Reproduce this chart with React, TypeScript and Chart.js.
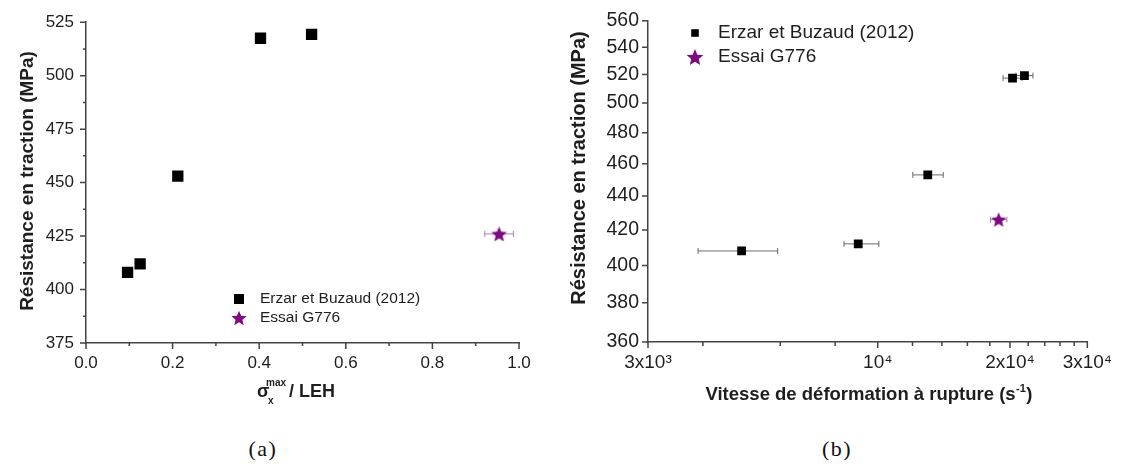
import React, { useEffect, useRef } from 'react';
import { Chart, registerables } from 'chart.js';

Chart.register(...registerables);

const FONT = '"Liberation Sans", Arial, Helvetica, sans-serif';
const PURPLE = '#7e0a80';
const AXIS = '#444444';
const TEXT = '#1e1e1e';

// ---------- Data: panel (a) ----------
const legendLabels = ['Erzar et Buzaud (2012)', 'Essai G776'];
const strengthErzar = [408, 412, 453, 517.5, 519.3];
const ratioErzar = [0.096, 0.125, 0.212, 0.403, 0.521];
const strengthEssai = [426];
const ratioEssai = [0.954];
const ratioEssaiErr = [0.033];

const xTicksA = [0, 0.2, 0.4, 0.6, 0.8, 1.0];
const xMinorTicksA = [0.1, 0.3, 0.5, 0.7, 0.9];
const yTicksA = [375, 400, 425, 450, 475, 500, 525];
const yMinorTicksA = [387.5, 412.5, 437.5, 462.5, 487.5, 512.5];

// ---------- Data: panel (b) ----------
const rateErzar = [4900, 9030, 13000, 20270, 21580];
const rateErzarLow = [3900, 8380, 12020, 19290, 20640];
const rateErzarHigh = [5920, 10060, 14100, 21300, 22560];
const rateEssai = [18850];
const rateEssaiLow = [18060];
const rateEssaiHigh = [19680];

const xTicksB = [3000, 10000, 20000, 30000];
const xTickLabelsB = ['3x10\u00B3', '10\u2074', '2x10\u2074', '3x10\u2074'];
const xMinorTicksB = [4000, 6000, 8000, 12000, 14000, 16000, 18000, 22000, 24000, 26000, 28000];
const yTicksB = [360, 380, 400, 420, 440, 460, 480, 500, 520, 540, 560];

function starPath(ctx: CanvasRenderingContext2D, cx: number, cy: number, R: number, r: number) {
  ctx.beginPath();
  for (let i = 0; i < 10; i++) {
    const rad = i % 2 === 0 ? R : r;
    const a = -Math.PI / 2 + (i * Math.PI) / 5;
    const px = cx + rad * Math.cos(a);
    const py = cy + rad * Math.sin(a);
    if (i === 0) ctx.moveTo(px, py);
    else ctx.lineTo(px, py);
  }
  ctx.closePath();
}

function makeStar(R: number, color: string) {
  const size = Math.ceil(2 * R + 2);
  const c = document.createElement('canvas');
  c.width = size;
  c.height = size;
  const g = c.getContext('2d')!;
  g.fillStyle = color;
  starPath(g, size / 2, size / 2 + R * 0.095, R, R * 0.45);
  g.fill();
  return c;
}

type TickSpec = { xMajor: number[]; xMinor: number[]; yMajor: number[]; yMinor: number[]; majorLen: number; minorLen: number };

function tickPlugin(id: string, spec: TickSpec) {
  return {
    id,
    afterDraw(chart: any) {
      const { ctx, chartArea } = chart;
      const xs = chart.scales.x;
      const ys = chart.scales.y;
      ctx.save();
      ctx.strokeStyle = AXIS;
      ctx.lineWidth = 1.5;
      ctx.beginPath();
      spec.xMajor.forEach((v) => {
        const p = xs.getPixelForValue(v);
        ctx.moveTo(p, chartArea.bottom);
        ctx.lineTo(p, chartArea.bottom + spec.majorLen);
      });
      spec.xMinor.forEach((v) => {
        const p = xs.getPixelForValue(v);
        ctx.moveTo(p, chartArea.bottom);
        ctx.lineTo(p, chartArea.bottom + spec.minorLen);
      });
      spec.yMajor.forEach((v) => {
        const p = ys.getPixelForValue(v);
        ctx.moveTo(chartArea.left, p);
        ctx.lineTo(chartArea.left - spec.majorLen, p);
      });
      spec.yMinor.forEach((v) => {
        const p = ys.getPixelForValue(v);
        ctx.moveTo(chartArea.left, p);
        ctx.lineTo(chartArea.left - spec.minorLen, p);
      });
      ctx.stroke();
      ctx.restore();
    },
  };
}

function drawErrBar(ctx: CanvasRenderingContext2D, x1: number, x2: number, y: number, cap: number) {
  ctx.moveTo(x1, y);
  ctx.lineTo(x2, y);
  ctx.moveTo(x1, y - cap);
  ctx.lineTo(x1, y + cap);
  ctx.moveTo(x2, y - cap);
  ctx.lineTo(x2, y + cap);
}

function ChartA() {
  const ref = useRef<HTMLCanvasElement | null>(null);
  useEffect(() => {
    const starData = makeStar(8.2, PURPLE);
    const starLegend = makeStar(8, PURPLE);

    const errPlugin = {
      id: 'errA',
      beforeDatasetsDraw(chart: any) {
        const { ctx } = chart;
        const xs = chart.scales.x;
        const ys = chart.scales.y;
        ctx.save();
        ctx.strokeStyle = '#b27fb3';
        ctx.lineWidth = 1;
        ctx.beginPath();
        ratioEssai.forEach((v, i) => {
          drawErrBar(ctx, xs.getPixelForValue(v - ratioEssaiErr[i]), xs.getPixelForValue(v + ratioEssaiErr[i]), ys.getPixelForValue(strengthEssai[i]), 3);
        });
        ctx.stroke();
        ctx.restore();
      },
    };

    const textPlugin = {
      id: 'textA',
      afterDraw(chart: any) {
        const { ctx } = chart;
        ctx.save();
        ctx.fillStyle = TEXT;
        // y title
        ctx.save();
        ctx.translate(33, 181);
        ctx.rotate(-Math.PI / 2);
        ctx.font = `bold 19px ${FONT}`;
        ctx.textAlign = 'center';
        ctx.textBaseline = 'alphabetic';
        ctx.fillText('Résistance en traction (MPa)', 0, 0);
        ctx.restore();
        // x title: sigma_x^max / LEH
        ctx.textAlign = 'left';
        ctx.textBaseline = 'alphabetic';
        ctx.font = `bold 18px ${FONT}`;
        ctx.fillText('σ', 257, 397);
        ctx.font = `bold 10px ${FONT}`;
        ctx.fillText('max', 266, 386);
        ctx.fillText('x', 268, 404);
        ctx.font = `bold 18px ${FONT}`;
        ctx.fillText('/ LEH', 289, 397);
        // legend
        ctx.fillStyle = '#000';
        ctx.fillRect(239 - 5, 299 - 5, 10, 10);
        ctx.drawImage(starLegend, 239 - starLegend.width / 2, 318 - starLegend.height / 2);
        ctx.fillStyle = TEXT;
        ctx.font = `15.5px ${FONT}`;
        ctx.textBaseline = 'middle';
        ctx.fillText(legendLabels[0], 260, 299);
        ctx.fillText(legendLabels[1], 260, 318);
        ctx.restore();
      },
    };

    const chart = new Chart(ref.current!, {
      type: 'scatter',
      data: {
        datasets: [
          {
            label: legendLabels[0],
            data: ratioErzar.map((x, i) => ({ x, y: strengthErzar[i] })),
            pointStyle: 'rect',
            pointRadius: 8,
            borderWidth: 0,
            backgroundColor: '#000',
            borderColor: '#000',
          },
          {
            label: legendLabels[1],
            data: ratioEssai.map((x, i) => ({ x, y: strengthEssai[i] })),
            pointStyle: starData as any,
            pointRadius: 8,
            backgroundColor: PURPLE,
            borderColor: PURPLE,
          },
        ],
      },
      options: {
        animation: false,
        responsive: false,
        maintainAspectRatio: false,
        layout: { padding: { top: 20, right: 41, left: 0, bottom: 0 } },
        plugins: { legend: { display: false }, tooltip: { enabled: false } },
        scales: {
          x: {
            type: 'linear',
            min: 0,
            max: 1,
            afterFit: (s: any) => {
              s.height = 77;
            },
            afterBuildTicks: (s: any) => {
              s.ticks = xTicksA.map((v) => ({ value: v }));
            },
            grid: { display: false, drawTicks: false },
            border: { display: true, color: AXIS, width: 1.5 },
            ticks: {
              padding: 10,
              autoSkip: false,
              maxRotation: 0,
              color: TEXT,
              font: { family: FONT, size: 17 },
              callback: (v: any) => Number(v).toFixed(1),
            },
          },
          y: {
            type: 'linear',
            min: 375,
            max: 525,
            afterFit: (s: any) => {
              s.width = 86;
            },
            afterBuildTicks: (s: any) => {
              s.ticks = yTicksA.map((v) => ({ value: v }));
            },
            grid: { display: false, drawTicks: false },
            border: { display: true, color: AXIS, width: 1.5 },
            ticks: {
              padding: 12,
              autoSkip: false,
              color: TEXT,
              font: { family: FONT, size: 17 },
              callback: (v: any) => String(v),
            },
          },
        },
      },
      plugins: [
        errPlugin,
        tickPlugin('ticksA', { xMajor: xTicksA, xMinor: xMinorTicksA, yMajor: yTicksA, yMinor: yMinorTicksA, majorLen: 6, minorLen: 3 }),
        textPlugin,
      ],
    });
    return () => chart.destroy();
  }, []);
  return <canvas ref={ref} width={560} height={420} style={{ position: 'absolute', left: 0, top: 0, width: 560, height: 420 }} />;
}

function ChartB() {
  const ref = useRef<HTMLCanvasElement | null>(null);
  useEffect(() => {
    const starData = makeStar(8, PURPLE);
    const starLegend = makeStar(8.8, PURPLE);
    const OX = 560;

    const errPlugin = {
      id: 'errB',
      beforeDatasetsDraw(chart: any) {
        const { ctx } = chart;
        const xs = chart.scales.x;
        const ys = chart.scales.y;
        ctx.save();
        ctx.lineWidth = 1;
        ctx.strokeStyle = '#6a6a6a';
        ctx.beginPath();
        rateErzar.forEach((_v, i) => {
          drawErrBar(ctx, xs.getPixelForValue(rateErzarLow[i]), xs.getPixelForValue(rateErzarHigh[i]), ys.getPixelForValue(strengthErzar[i]), 3);
        });
        ctx.stroke();
        ctx.strokeStyle = '#b27fb3';
        ctx.beginPath();
        rateEssai.forEach((_v, i) => {
          drawErrBar(ctx, xs.getPixelForValue(rateEssaiLow[i]), xs.getPixelForValue(rateEssaiHigh[i]), ys.getPixelForValue(strengthEssai[i]), 3);
        });
        ctx.stroke();
        ctx.restore();
      },
    };

    const textPlugin = {
      id: 'textB',
      afterDraw(chart: any) {
        const { ctx } = chart;
        ctx.save();
        ctx.fillStyle = TEXT;
        // y title
        ctx.save();
        ctx.translate(585 - OX, 168);
        ctx.rotate(-Math.PI / 2);
        ctx.font = `bold 20px ${FONT}`;
        ctx.textAlign = 'center';
        ctx.textBaseline = 'alphabetic';
        ctx.fillText('Résistance en traction (MPa)', 0, 0);
        ctx.restore();
        // x title with superscript
        const main = 'Vitesse de déformation à rupture (s';
        const sup = '-1';
        const tail = ')';
        ctx.textAlign = 'left';
        ctx.textBaseline = 'alphabetic';
        ctx.font = `bold 18.5px ${FONT}`;
        const wMain = ctx.measureText(main).width;
        const wTail = ctx.measureText(tail).width;
        ctx.font = `bold 11px ${FONT}`;
        const wSup = ctx.measureText(sup).width;
        const total = wMain + wSup + 1 + wTail;
        const x0 = 869 - OX - total / 2;
        const base = 400;
        ctx.font = `bold 18.5px ${FONT}`;
        ctx.fillText(main, x0, base);
        ctx.fillText(tail, x0 + wMain + wSup + 1, base);
        ctx.font = `bold 11px ${FONT}`;
        ctx.fillText(sup, x0 + wMain + 0.5, base - 8);
        // legend
        ctx.fillStyle = '#000';
        ctx.fillRect(695 - OX - 3.8, 33 - 3.8, 7.6, 7.6);
        ctx.drawImage(starLegend, 695 - OX - starLegend.width / 2, 57 - starLegend.height / 2);
        ctx.fillStyle = TEXT;
        ctx.font = `19px ${FONT}`;
        ctx.textBaseline = 'middle';
        ctx.fillText(legendLabels[0], 718 - OX, 33);
        ctx.fillText(legendLabels[1], 718 - OX, 57);
        ctx.restore();
      },
    };

    const chart = new Chart(ref.current!, {
      type: 'scatter',
      data: {
        datasets: [
          {
            label: legendLabels[0],
            data: rateErzar.map((x, i) => ({ x, y: strengthErzar[i] })),
            pointStyle: 'rect',
            pointRadius: 6.2,
            borderWidth: 0,
            backgroundColor: '#000',
            borderColor: '#000',
          },
          {
            label: legendLabels[1],
            data: rateEssai.map((x, i) => ({ x, y: strengthEssai[i] })),
            pointStyle: starData as any,
            pointRadius: 8,
            backgroundColor: PURPLE,
            borderColor: PURPLE,
          },
        ],
      },
      options: {
        animation: false,
        responsive: false,
        maintainAspectRatio: false,
        layout: { padding: { top: 16, right: 31, left: 0, bottom: 0 } },
        plugins: { legend: { display: false }, tooltip: { enabled: false } },
        scales: {
          x: {
            type: 'logarithmic',
            min: 3000,
            max: 30000,
            afterFit: (s: any) => {
              s.height = 78;
            },
            afterBuildTicks: (s: any) => {
              s.ticks = xTicksB.map((v) => ({ value: v }));
            },
            grid: { display: false, drawTicks: false },
            border: { display: true, color: AXIS, width: 1.5 },
            ticks: {
              padding: 9,
              autoSkip: false,
              maxRotation: 0,
              color: TEXT,
              font: { family: FONT, size: 19 },
              callback: (v: any) => {
                const i = xTicksB.indexOf(Number(v));
                return i >= 0 ? xTickLabelsB[i] : '';
              },
            },
          },
          y: {
            type: 'logarithmic',
            min: 360,
            max: 560,
            afterFit: (s: any) => {
              s.width = 88;
            },
            afterBuildTicks: (s: any) => {
              s.ticks = yTicksB.map((v) => ({ value: v }));
            },
            grid: { display: false, drawTicks: false },
            border: { display: true, color: AXIS, width: 1.5 },
            ticks: {
              padding: 9,
              autoSkip: false,
              color: TEXT,
              font: { family: FONT, size: 19.5 },
              callback: (v: any) => String(v),
            },
          },
        },
      },
      plugins: [
        errPlugin,
        tickPlugin('ticksB', { xMajor: xTicksB, xMinor: xMinorTicksB, yMajor: yTicksB, yMinor: [], majorLen: 6, minorLen: 4 }),
        textPlugin,
      ],
    });
    return () => chart.destroy();
  }, []);
  return <canvas ref={ref} width={561} height={420} style={{ position: 'absolute', left: 560, top: 0, width: 561, height: 420 }} />;
}

const captionStyle: React.CSSProperties = {
  position: 'absolute',
  top: 437,
  width: 80,
  textAlign: 'center',
  fontFamily: '"Liberation Serif", "Times New Roman", serif',
  fontSize: 22,
  lineHeight: '24px',
  letterSpacing: 1.5,
  color: '#111',
};

export default function App() {
  return (
    <div style={{ position: 'absolute', left: 0, top: 0, width: 1121, height: 464, background: '#fff', overflow: 'hidden' }}>
      <ChartA />
      <ChartB />
      <div style={{ ...captionStyle, left: 263 - 40 }}>(a)</div>
      <div style={{ ...captionStyle, left: 837 - 40 }}>(b)</div>
    </div>
  );
}
